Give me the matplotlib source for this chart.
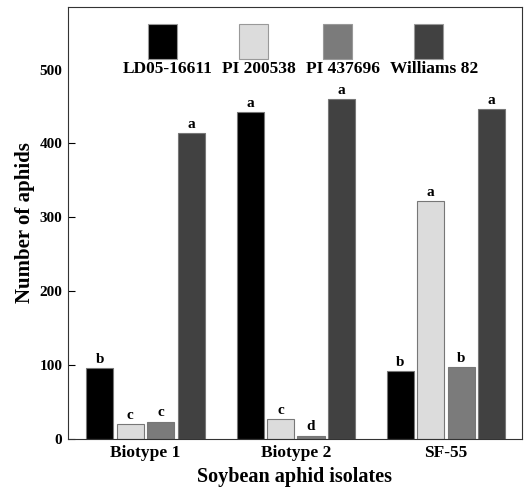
import numpy as np
import matplotlib
matplotlib.use("Agg")
import matplotlib.pyplot as plt
from matplotlib.patches import Rectangle
from matplotlib.offsetbox import DrawingArea, TextArea, VPacker, HPacker, AnchoredOffsetbox

# Data
isolates = ["Biotype 1", "Biotype 2", "SF-55"]
lines = ["LD05-16611", "PI 200538", "PI 437696", "Williams 82"]
ld05 = [96, 442, 91]
pi200538 = [20, 27, 322]
pi437696 = [23, 4, 97]
williams82 = [414, 460, 447]
letters_ld05 = ["b", "a", "b"]
letters_pi200538 = ["c", "c", "a"]
letters_pi437696 = ["c", "d", "b"]
letters_williams82 = ["a", "a", "a"]

colors = ["#000000", "#dcdcdc", "#7b7b7b", "#414141"]
series = [ld05, pi200538, pi437696, williams82]
letters = [letters_ld05, letters_pi200538, letters_pi437696, letters_williams82]

plt.rcParams["font.family"] = ["Liberation Serif", "DejaVu Serif"]
plt.rcParams["font.weight"] = "bold"

fig = plt.figure(figsize=(5.29, 4.91), dpi=100)
ax = fig.add_axes([0.1285, 0.1069, 0.8583, 0.8788])

x = np.arange(len(isolates))
width = 0.18
step = 0.203
for i, (vals, col, lets) in enumerate(zip(series, colors, letters)):
    pos = x + (i - 1.5) * step
    bars = ax.bar(pos, vals, width=width, color=col, edgecolor="#777777", linewidth=0.8)
    for b, v, l in zip(bars, vals, lets):
        ax.annotate(l, (b.get_x() + b.get_width() / 2, v), xytext=(0, 1.5),
                    textcoords="offset points", ha="center", va="bottom",
                    fontsize=11, fontweight="bold")

ax.set_xlim(-0.517, 2.507)
ax.set_ylim(0, 585)
ax.set_yticks([0, 100, 200, 300, 400, 500])
ax.set_xticks(x)
ax.set_xticklabels(isolates, fontsize=12.5, fontweight="bold")
ax.tick_params(axis="y", direction="in", length=5, width=0.8, labelsize=11, pad=4)
ax.tick_params(axis="x", length=0, pad=5)
# no tick mark drawn at 500 in the original
ax.yaxis.get_major_ticks()[-1].tick1line.set_visible(False)
for s in ax.spines.values():
    s.set_color("#333333")
    s.set_linewidth(0.8)

ax.set_xlabel("Soybean aphid isolates", fontsize=14.5, fontweight="bold", labelpad=4)
ax.set_ylabel("Number of aphids", fontsize=15, fontweight="bold", labelpad=3)

# legend: swatch above label
entries = []
for name, col in zip(lines, colors):
    da = DrawingArea(29, 25.5, 0, 0)
    da.add_artist(Rectangle((0, 0), 21, 25.5, facecolor=col, edgecolor="#999999", linewidth=0.8))
    ta = TextArea(name, textprops=dict(fontsize=12.5, fontweight="bold"))
    entries.append(VPacker(children=[da, ta], align="center", pad=0, sep=1))
row = HPacker(children=entries, align="top", pad=0, sep=7)
box = AnchoredOffsetbox(loc="upper center", child=row, pad=0, frameon=False,
                        bbox_to_anchor=(0.512, 0.961), bbox_transform=ax.transAxes,
                        borderpad=0)
ax.add_artist(box)

fig.savefig("out.png", dpi=100)
